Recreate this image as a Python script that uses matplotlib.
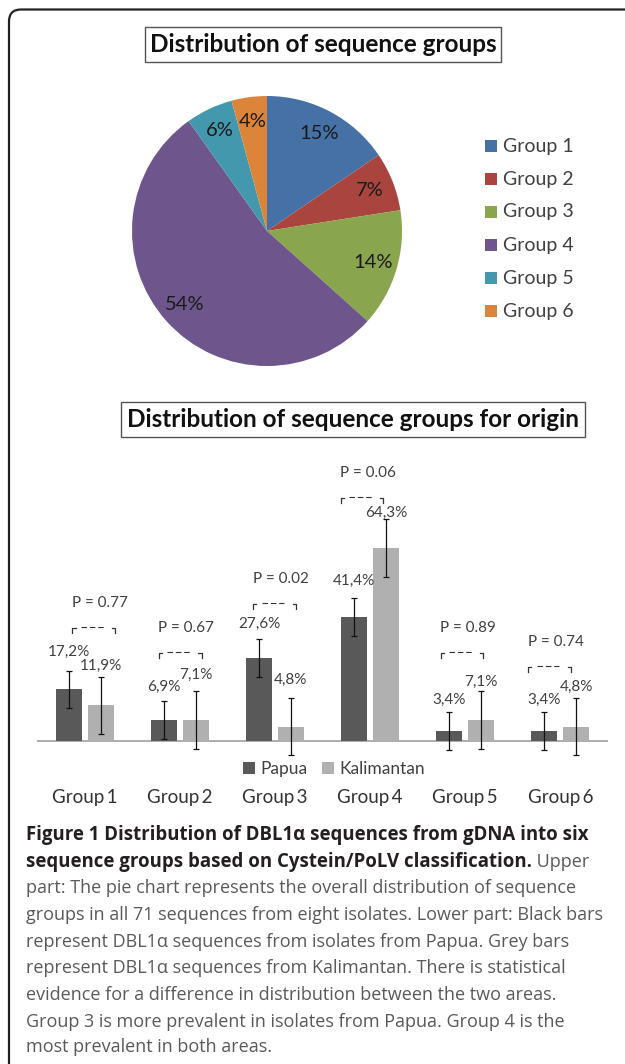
import matplotlib
matplotlib.use("Agg")
import matplotlib.pyplot as plt
from matplotlib.patches import Rectangle, FancyBboxPatch
import numpy as np

W, H = 625, 1064

# ---- data ----
groups = ["Group 1", "Group 2", "Group 3", "Group 4", "Group 5", "Group 6"]
tick_labels = ["Group\u20091", "Group\u20092", "Group\u20093", "Group\u20094", "Group\u20095", "Group\u20096"]
pie_counts = [11, 5, 10, 38, 4, 3]          # 71 sequences in total
pie_colors = ["#4571A7", "#A9443F", "#89A54E", "#6E568C", "#4398AE", "#DC853A"]

papua = [17.2, 6.9, 27.6, 41.4, 3.4, 3.4]
kalimantan = [11.9, 7.1, 4.8, 64.3, 7.1, 4.8]
papua_err = [6.3, 6.3, 6.3, 6.3, 6.3, 6.3]
kalimantan_err = [9.6, 9.6, 9.6, 9.6, 9.6, 9.6]
p_values = ["0.77", "0.67", "0.02", "0.06", "0.89", "0.74"]
series_names = ["Papua", "Kalimantan"]
series_colors = ["#595959", "#B0B0B0"]

caption_bold = [
    "Figure 1 Distribution of DBL1\u03b1 sequences from gDNA into six",
    "sequence groups based on Cystein/PoLV classification.",
]
caption_rest = [
    " Upper",
    "part: The pie chart represents the overall distribution of sequence",
    "groups in all 71 sequences from eight isolates. Lower part: Black bars",
    "represent DBL1\u03b1 sequences from isolates from Papua. Grey bars",
    "represent DBL1\u03b1 sequences from Kalimantan. There is statistical",
    "evidence for a difference in distribution between the two areas.",
    "Group 3 is more prevalent in isolates from Papua. Group 4 is the",
    "most prevalent in both areas.",
]

# ---- layout (pixels, top-left origin) ----
p_text_dx = [0.16, 0.07, 0.06, -0.02, 0.03, -0.05]
p_text_y = [46, 37.7, 54, 89.3, 37.7, 33.1]
papua_lab_nudge = [6.2, 4.7, 5.3, 5.6, 4.0, 4.0]
kal_lab_nudge = [3.5, 5.3, 5.9, 2.0, 3.1, 3.5]

CHART_FONT = "Lato"
CAP_FONT = "Open Sans"
TXT = "#404040"


def fbox(x, y, w, h):
    return [x / W, 1 - (y + h) / H, w / W, h / H]


fig = plt.figure(figsize=(W / 100, H / 100), dpi=100)
fig.patch.set_facecolor("white")

# outer rounded frame (runs off the right and bottom edge)
frame = FancyBboxPatch((0.09, -0.5), 7.0, 10.64 - 0.095 + 0.5,
                       boxstyle="round,pad=0,rounding_size=0.12",
                       transform=fig.dpi_scale_trans, fc="none", ec="#222222", lw=1.6)
fig.patches.append(frame)


def title_box(x0, y0, x1, y1, s):
    fig.patches.append(Rectangle((x0 / W, 1 - y1 / H), (x1 - x0) / W, (y1 - y0) / H,
                                 transform=fig.transFigure, fc="white", ec="#555555", lw=1.0))
    fig.text((x0 + x1) / 2 / W, 1 - (y0 + y1) / 2 / H, s, ha="center", va="center",
             fontsize=17.5, fontweight="bold", family=CHART_FONT, color="#111111")


# ---- pie ----
title_box(145, 27, 501, 62, "Distribution of sequence groups")

ax_pie = fig.add_axes(fbox(267 - 135, 231 - 135, 270, 270))
wedges, _, autotexts = ax_pie.pie(pie_counts, colors=pie_colors, startangle=90, counterclock=False,
                                  autopct="%1.0f%%", pctdistance=0.82, radius=1,
                                  wedgeprops=dict(lw=0),
                                  textprops=dict(fontsize=14.5, family=CHART_FONT, color="#1a1a1a"))
ax_pie.set_xlim(-1, 1)
ax_pie.set_ylim(-1, 1)
ax_pie.set_aspect("equal")

leg_y = [146, 179.3, 212, 245.3, 278.3, 311]
for name, col, y in zip(groups, pie_colors, leg_y):
    fig.patches.append(Rectangle((485 / W, 1 - (y + 6) / H), 12 / W, 12 / H,
                                 transform=fig.transFigure, fc=col, ec="none"))
    fig.text(503 / W, 1 - y / H, name, ha="left", va="center", fontsize=14,
             family=CHART_FONT, color=TXT)

# ---- bar chart ----
title_box(121, 402, 585, 437, "Distribution of sequence groups for origin")

ax = fig.add_axes(fbox(37, 441, 571, 330))
x = np.arange(len(groups))
bw = 0.273
off = 0.168
b1 = ax.bar(x - off, papua, bw, color=series_colors[0], label=series_names[0], zorder=2)
b2 = ax.bar(x + off, kalimantan, bw, color=series_colors[1], label=series_names[1], zorder=2)
ax.errorbar(x - off, papua, yerr=papua_err, fmt="none", ecolor="#111111", elinewidth=0.9,
            capsize=1.9, capthick=0.9, zorder=3, clip_on=False)
ax.errorbar(x + off, kalimantan, yerr=kalimantan_err, fmt="none", ecolor="#111111", elinewidth=0.9,
            capsize=1.9, capthick=0.9, zorder=3, clip_on=False)
ax.axhline(0, color="#A6A6A6", lw=1.3, zorder=1)
ax.set_xlim(-0.5, 5.5)
ax.set_ylim(-10, 100)
for s in ax.spines.values():
    s.set_visible(False)
ax.set_yticks([])
ax.set_xticks(x)
ax.set_xticklabels(tick_labels, fontsize=13.5, family=CHART_FONT, color="#333333")
ax.tick_params(axis="x", length=0, pad=13)
ax.patch.set_alpha(0)


def pct(v):
    return f"{v:.1f}".replace(".", ",") + "%"


for i in range(len(groups)):
    ax.text(x[i] - off, papua[i] + papua_err[i] + papua_lab_nudge[i], pct(papua[i]),
            ha="center", va="center", fontsize=11, family=CHART_FONT, color=TXT)
    ax.text(x[i] + off, kalimantan[i] + kalimantan_err[i] + kal_lab_nudge[i], pct(kalimantan[i]),
            ha="center", va="center", fontsize=11, family=CHART_FONT, color=TXT)
    # p value + bracket
    cx = x[i] + p_text_dx[i]
    ty = p_text_y[i]
    ax.text(cx, ty, f"P = {p_values[i]}", ha="center", va="center", fontsize=11,
            family=CHART_FONT, color=TXT)
    x0 = cx - 0.29
    x1 = x0 + 0.45
    by = ty - 8.3
    h = 1.7
    a = 0.035
    ax.plot([x0, x0, x0 + a], [by - h, by, by], color="#333333", lw=0.9, clip_on=False)
    ax.plot([x1 - a, x1, x1], [by, by, by - h], color="#333333", lw=0.9, clip_on=False)
    ax.plot([x0 + 0.09, x1 - 0.12], [by + 0.3, by + 0.3], color="#333333", lw=0.8,
            ls=(0, (5, 2.5)), clip_on=False)

ax.legend(handles=[b1, b2], loc="center", bbox_to_anchor=(334 / W, 1 - 769 / H),
          bbox_transform=fig.transFigure, ncol=2, frameon=False,
          prop=dict(family=CHART_FONT, size=12.5), handlelength=0.7, handleheight=0.7,
          handletextpad=0.3, columnspacing=0.8, borderpad=0, labelcolor=TXT)

# ---- caption ----
cap_y = [835, 861.7, 888.3, 915, 941.7, 968.3, 995, 1021.7, 1046.7]
fig.canvas.draw()
renderer = fig.canvas.get_renderer()
t_last = None
for j, s in enumerate(caption_bold):
    t_last = fig.text(26 / W, 1 - cap_y[j] / H, s, ha="left", va="center", fontsize=13.4,
                      fontweight="bold", family=CAP_FONT, color="#231F20")
# the rest of line 2 follows the bold part
bb = t_last.get_window_extent(renderer)
fig.text(bb.x1 / W, 1 - cap_y[1] / H, caption_rest[0], ha="left", va="center", fontsize=13.0,
         family=CAP_FONT, color="#58595B")
for j, s in enumerate(caption_rest[1:]):
    fig.text(26 / W, 1 - cap_y[j + 2] / H, s, ha="left", va="center", fontsize=13.0,
             family=CAP_FONT, color="#58595B")

fig.savefig("out.png", dpi=100)
